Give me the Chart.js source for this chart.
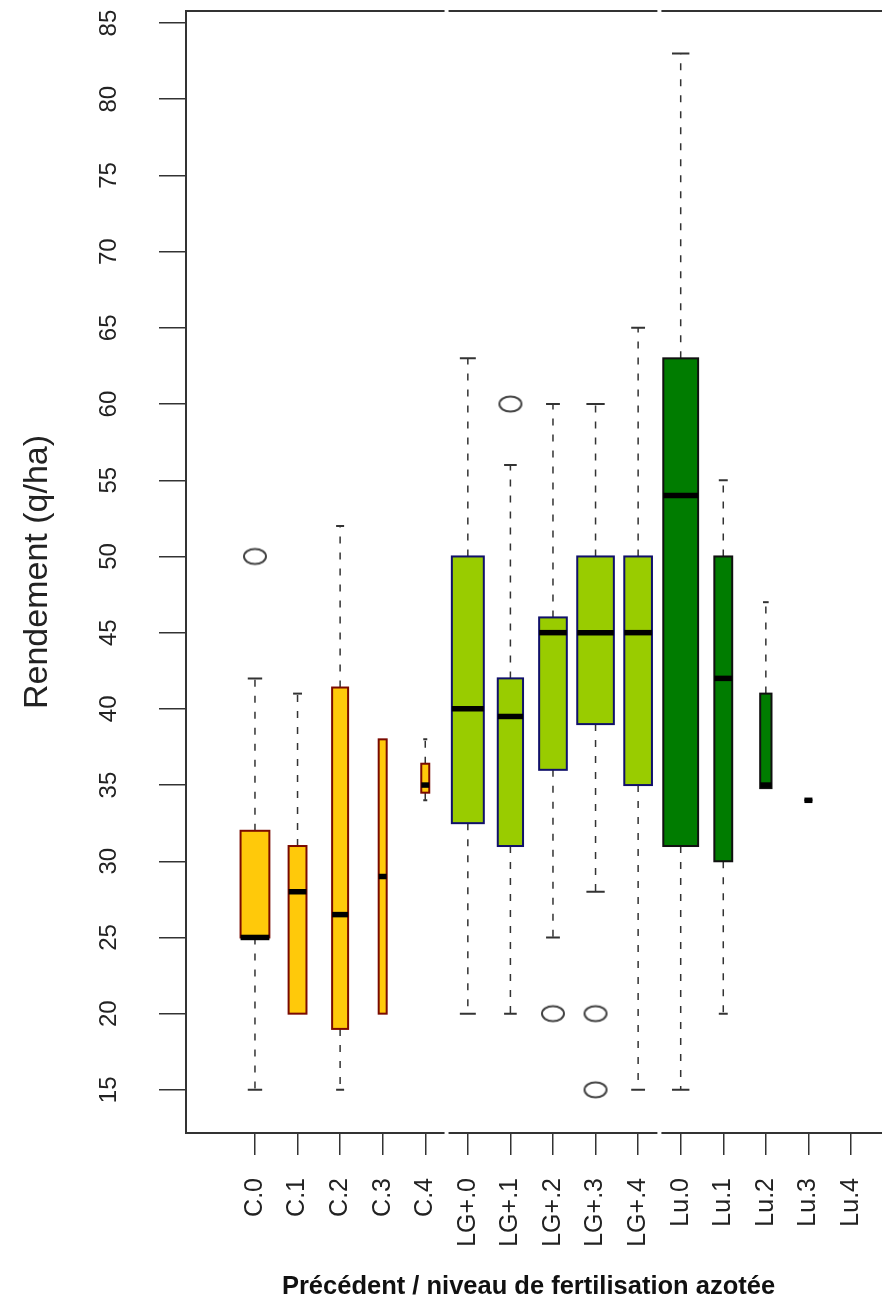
<!DOCTYPE html>
<html>
<head>
<meta charset="utf-8">
<script src="https://cdn.jsdelivr.net/npm/chart.js@4.4.0/dist/chart.umd.min.js"></script>
<style>
  html, body { margin: 0; padding: 0; background: #fff; overflow: hidden; }
  canvas { display: block; }
</style>
</head>
<body>
<canvas id="grafico" width="882" height="1302"></canvas>
<script>
// Données (boîtes à moustaches)
var categories = ["C.0", "C.1", "C.2", "C.3", "C.4", "LG+.0", "LG+.1", "LG+.2", "LG+.3", "LG+.4", "Lu.0", "Lu.1", "Lu.2", "Lu.3", "Lu.4"];
var moustacheBas  = [15, 20, 15, 20, 34, 20, 20, 25, 28, 15, 15, 20, 34.8, 34, null];
var quartile1     = [25, 20, 19, 20, 34.5, 32.5, 31, 36, 39, 35, 31, 30, 34.8, 34, null];
var mediane       = [25, 28, 26.5, 29, 35, 40, 39.5, 45, 45, 45, 54, 42, 35, 34, null];
var quartile3     = [32, 31, 41.4, 38, 36.4, 50, 42, 46, 50, 50, 63, 50, 41, 34, null];
var moustacheHaut = [42, 41, 52, 38, 38, 63, 56, 60, 60, 65, 83, 55, 47, 34, null];
var effectifs     = [13, 5, 4, 1, 1, 16, 10, 12, 21, 12, 19, 5, 2, 1, 0];
var extremesCategorie = ["C.0", "LG+.1", "LG+.2", "LG+.3", "LG+.3"];
var extremesValeur    = [50, 60, 20, 20, 15];
var yTicks = [15, 20, 25, 30, 35, 40, 45, 50, 55, 60, 65, 70, 75, 80, 85];

// couleurs par précédent
var styles = {
  "C":   { fond: "#ffc90a", bord: "#7a0a00" },
  "LG+": { fond: "#99cc00", bord: "#10106a" },
  "Lu":  { fond: "#007c00", bord: "#111111" }
};
function styleDe(cat) { return styles[cat.split(".")[0]]; }

function cercle() {
  var c = document.createElement("canvas");
  c.width = 26; c.height = 20;
  var g = c.getContext("2d");
  g.strokeStyle = "#444"; g.lineWidth = 2;
  g.beginPath(); g.ellipse(13, 10, 11, 7.5, 0, 0, 2 * Math.PI); g.stroke();
  return c;
}

function sansMarge(s) {
  s.paddingTop = 0; s.paddingBottom = 0; s.paddingLeft = 0; s.paddingRight = 0;
}

var boites = {
  id: "boites",
  beforeDatasetsDraw: function(chart) {
    var ctx = chart.ctx, x = chart.scales.x, y = chart.scales.y, a = chart.chartArea;
    var pas = x.getPixelForValue(1) - x.getPixelForValue(0);
    var nMax = Math.max.apply(null, effectifs);
    ctx.save();
    // cadre (le bord droit est hors de l'image)
    ctx.strokeStyle = "#333"; ctx.lineWidth = 2;
    ctx.beginPath();
    ctx.moveTo(chart.width, a.top); ctx.lineTo(a.left, a.top);
    ctx.lineTo(a.left, a.bottom); ctx.lineTo(chart.width, a.bottom);
    ctx.stroke();
    // séparations blanches entre précédents
    ctx.fillStyle = "#fff";
    [4.5, 9.5].forEach(function(v) {
      var px = x.getPixelForValue(v);
      ctx.fillRect(px - 2, a.top - 3, 4, 6);
      ctx.fillRect(px - 2, a.bottom - 3, 4, 6);
    });
    for (var i = 0; i < categories.length; i++) {
      if (mediane[i] == null) continue;
      var st = styleDe(categories[i]);
      var cx = x.getPixelForValue(i);
      var w = 0.86 * pas * Math.sqrt(effectifs[i] / nMax);
      var yq1 = y.getPixelForValue(quartile1[i]);
      var yq3 = y.getPixelForValue(quartile3[i]);
      var ymed = y.getPixelForValue(mediane[i]);
      var ybas = y.getPixelForValue(moustacheBas[i]);
      var yhaut = y.getPixelForValue(moustacheHaut[i]);
      // moustaches
      ctx.strokeStyle = "#333"; ctx.lineWidth = 1.5; ctx.setLineDash([7, 9]);
      ctx.beginPath();
      ctx.moveTo(cx, yq3); ctx.lineTo(cx, yhaut);
      ctx.moveTo(cx, yq1); ctx.lineTo(cx, ybas);
      ctx.stroke();
      ctx.setLineDash([]);
      ctx.lineWidth = 2;
      ctx.beginPath();
      if (moustacheHaut[i] > quartile3[i]) { ctx.moveTo(cx - w / 4, yhaut); ctx.lineTo(cx + w / 4, yhaut); }
      if (moustacheBas[i] < quartile1[i]) { ctx.moveTo(cx - w / 4, ybas); ctx.lineTo(cx + w / 4, ybas); }
      ctx.stroke();
      // boîte
      ctx.fillStyle = st.fond;
      ctx.fillRect(cx - w / 2, yq3, w, yq1 - yq3);
      ctx.strokeStyle = st.bord; ctx.lineWidth = 2;
      ctx.strokeRect(cx - w / 2, yq3, w, yq1 - yq3);
      // médiane
      ctx.strokeStyle = "#000"; ctx.lineWidth = 5.5;
      ctx.beginPath(); ctx.moveTo(cx - w / 2, ymed); ctx.lineTo(cx + w / 2, ymed); ctx.stroke();
    }
    ctx.restore();
  }
};

var pointsExtremes = extremesCategorie.map(function(c, k) {
  return { x: categories.indexOf(c), y: extremesValeur[k] };
});

var grafico = new Chart(document.getElementById("grafico"), {
  type: "scatter",
  data: {
    datasets: [{
      label: "valeurs extrêmes",
      data: pointsExtremes,
      pointStyle: cercle(),
      pointRadius: 10
    }]
  },
  options: {
    responsive: false,
    animation: false,
    layout: { padding: { top: 11, right: 0, left: 0, bottom: 0 } },
    plugins: { legend: { display: false }, tooltip: { enabled: false } },
    scales: {
      x: {
        type: "linear",
        min: -1.62,
        max: 14.47,
        afterBuildTicks: function(s) { s.ticks = categories.map(function(c, i) { return { value: i }; }); },
        afterFit: function(s) { s.height = 169; sansMarge(s); },
        ticks: {
          callback: function(v) { return categories[v]; },
          autoSkip: false, minRotation: 90, maxRotation: 90,
          font: { family: "Liberation Sans", size: 25 }, color: "#222", padding: 23
        },
        grid: { drawOnChartArea: false, tickLength: 22, color: "#333", lineWidth: 1.5 },
        border: { display: false },
        title: {
          display: true, text: "Précédent / niveau de fertilisation azotée",
          font: { family: "Liberation Sans", size: 25.5, weight: "bold" }, color: "#111",
          padding: { top: 0, bottom: 0 }
        }
      },
      y: {
        min: 12.17,
        max: 85.79,
        afterBuildTicks: function(s) { s.ticks = yTicks.map(function(v) { return { value: v }; }); },
        afterFit: function(s) { s.width = 186; sansMarge(s); },
        ticks: {
          minRotation: 90, maxRotation: 90, crossAlign: "center",
          font: { family: "Liberation Sans", size: 24 }, color: "#222", padding: 36
        },
        grid: { drawOnChartArea: false, tickLength: 27, color: "#333", lineWidth: 1.5 },
        border: { display: false },
        title: {
          display: true, text: "Rendement (q/ha)",
          font: { family: "Liberation Sans", size: 34 }, color: "#222",
          padding: { top: 17, bottom: 0 }
        }
      }
    }
  },
  plugins: [boites]
});
</script>
</body>
</html>
